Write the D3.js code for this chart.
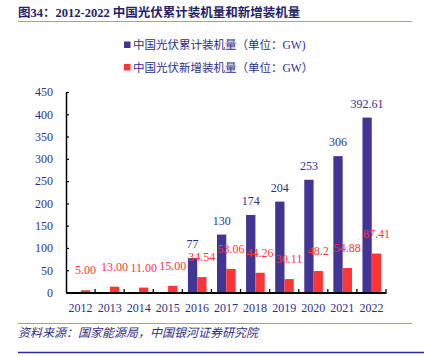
<!DOCTYPE html>
<html><head><meta charset="utf-8">
<script src="https://cdn.jsdelivr.net/npm/d3@7"></script>
<style>body{margin:0;background:#fff}svg{display:block}</style>
</head><body>
<svg id="c" width="424" height="357"></svg>
<script>
const years = ["2012","2013","2014","2015","2016","2017","2018","2019","2020","2021","2022"];
const cumulative = [null,null,null,null,77,130,174,204,253,306,392.61];
const cumulativeLabels = ["","","","","77","130","174","204","253","306","392.61"];
const added = [5.00,13.00,11.00,15.00,34.54,53.06,44.26,30.11,48.2,54.88,87.41];
const addedLabels = ["5.00","13.00","11.00","15.00","34.54","53.06","44.26","30.11","48.2","54.88","87.41"];
const yTicks = [0,50,100,150,200,250,300,350,400,450];
const legendNames = ["中国光伏累计装机量（单位：GW)","中国光伏新增装机量（单位：GW）"];
const titleText = "图34：2012-2022 中国光伏累计装机量和新增装机量";
const sourceText = "资料来源：国家能源局，中国银河证券研究院";

const BLUE = "#433594", RED = "#FF3535", NAVY = "#2E2E8A";
const FONT = "'Liberation Serif','Noto Sans CJK SC',serif";
const svg = d3.select("#c");

// title
svg.append("text").attr("x",18).attr("y",17).attr("font-family",FONT)
  .attr("font-weight","bold").attr("font-size",12.5).attr("fill","#1F2466").text(titleText);
svg.append("line").attr("x1",18).attr("x2",412).attr("y1",21.5).attr("y2",21.5)
  .attr("stroke","#9C9CCF").attr("stroke-width",1);

// legend
const legColors = [BLUE, RED];
legendNames.forEach((n,i)=>{
  const y = 45 + i*22.5;
  svg.append("rect").attr("x",124).attr("y",y-3.5).attr("width",6.5).attr("height",6.5).attr("fill",legColors[i]);
  svg.append("text").attr("x",133).attr("y",y+4).attr("font-family",FONT).attr("font-size",11.5)
    .attr("fill",NAVY).text(n);
});

// scales
const x0 = 66, x1 = 386, yTop = 92, yBot = 292.5;
const x = d3.scaleBand().domain(years).range([x0,x1]).padding(0);
const y = d3.scaleLinear().domain([0,450]).range([yBot,yTop]);
const bw = 9.3;

const g = svg.append("g");
// bars
g.selectAll("rect.cum").data(years.map((yr,i)=>({yr,v:cumulative[i]})).filter(d=>d.v!=null))
  .join("rect").attr("class","cum")
  .attr("x",d=>x(d.yr)+x.bandwidth()/2-bw+0.3).attr("width",bw)
  .attr("y",d=>y(d.v)).attr("height",d=>yBot-y(d.v)).attr("fill",BLUE);
g.selectAll("rect.add").data(years.map((yr,i)=>({yr,v:added[i]})))
  .join("rect").attr("class","add")
  .attr("x",d=>x(d.yr)+x.bandwidth()/2+0.3).attr("width",bw)
  .attr("y",d=>y(d.v)).attr("height",d=>yBot-y(d.v)).attr("fill",RED);

// y axis
const ya = svg.append("g").attr("transform",`translate(${x0},0)`)
  .call(d3.axisLeft(y).tickValues(yTicks).tickSize(-3).tickSizeOuter(0).tickPadding(13).tickFormat(d3.format("d")));
ya.select(".domain").attr("stroke","#000").attr("stroke-width",1.5);
ya.selectAll(".tick line").attr("stroke","#000").attr("stroke-width",1.2);
ya.selectAll("text").attr("font-family",FONT).attr("font-size",12).attr("fill",NAVY);

// x axis
const xa = svg.append("g").attr("transform",`translate(0,${yBot})`)
  .call(d3.axisBottom(x).tickSize(0).tickPadding(10));
xa.select(".domain").attr("stroke","#000").attr("stroke-width",1.8);
xa.selectAll("text").attr("font-family",FONT).attr("font-size",12).attr("fill",NAVY).attr("dy","0.75em");
// boundary ticks (pointing up)
const bounds = years.map(yr=>x(yr)+x.bandwidth());
svg.append("g").selectAll("line").data(bounds).join("line")
  .attr("x1",d=>d).attr("x2",d=>d).attr("y1",yBot).attr("y2",yBot-3.5)
  .attr("stroke","#000").attr("stroke-width",1.3);

// value labels
g.selectAll("text.cl").data(years.map((yr,i)=>({yr,v:cumulative[i],t:cumulativeLabels[i]})).filter(d=>d.v!=null))
  .join("text").attr("class","cl").attr("text-anchor","middle")
  .attr("x",d=>x(d.yr)+x.bandwidth()/2-bw/2+0.3).attr("y",d=>y(d.v)-10)
  .attr("font-family",FONT).attr("font-size",12).attr("fill",NAVY).text(d=>d.t);
g.selectAll("text.al").data(years.map((yr,i)=>({yr,v:added[i],t:addedLabels[i]})))
  .join("text").attr("class","al").attr("text-anchor","middle")
  .attr("x",d=>x(d.yr)+x.bandwidth()/2+bw/2+0.3).attr("y",d=>y(d.v)-16)
  .attr("font-family",FONT).attr("font-size",12).attr("fill",RED).text(d=>d.t);

// footer
svg.append("line").attr("x1",18).attr("x2",412).attr("y1",323.5).attr("y2",323.5)
  .attr("stroke","#9C9CCF").attr("stroke-width",1);
svg.append("text").attr("x",18).attr("y",337).attr("font-family",FONT).attr("font-style","italic")
  .attr("font-size",12).attr("fill",NAVY).text(sourceText);
svg.append("line").attr("x1",18).attr("x2",424).attr("y1",352.5).attr("y2",352.5)
  .attr("stroke","#2B2BA0").attr("stroke-width",1.5);
</script>
</body></html>
